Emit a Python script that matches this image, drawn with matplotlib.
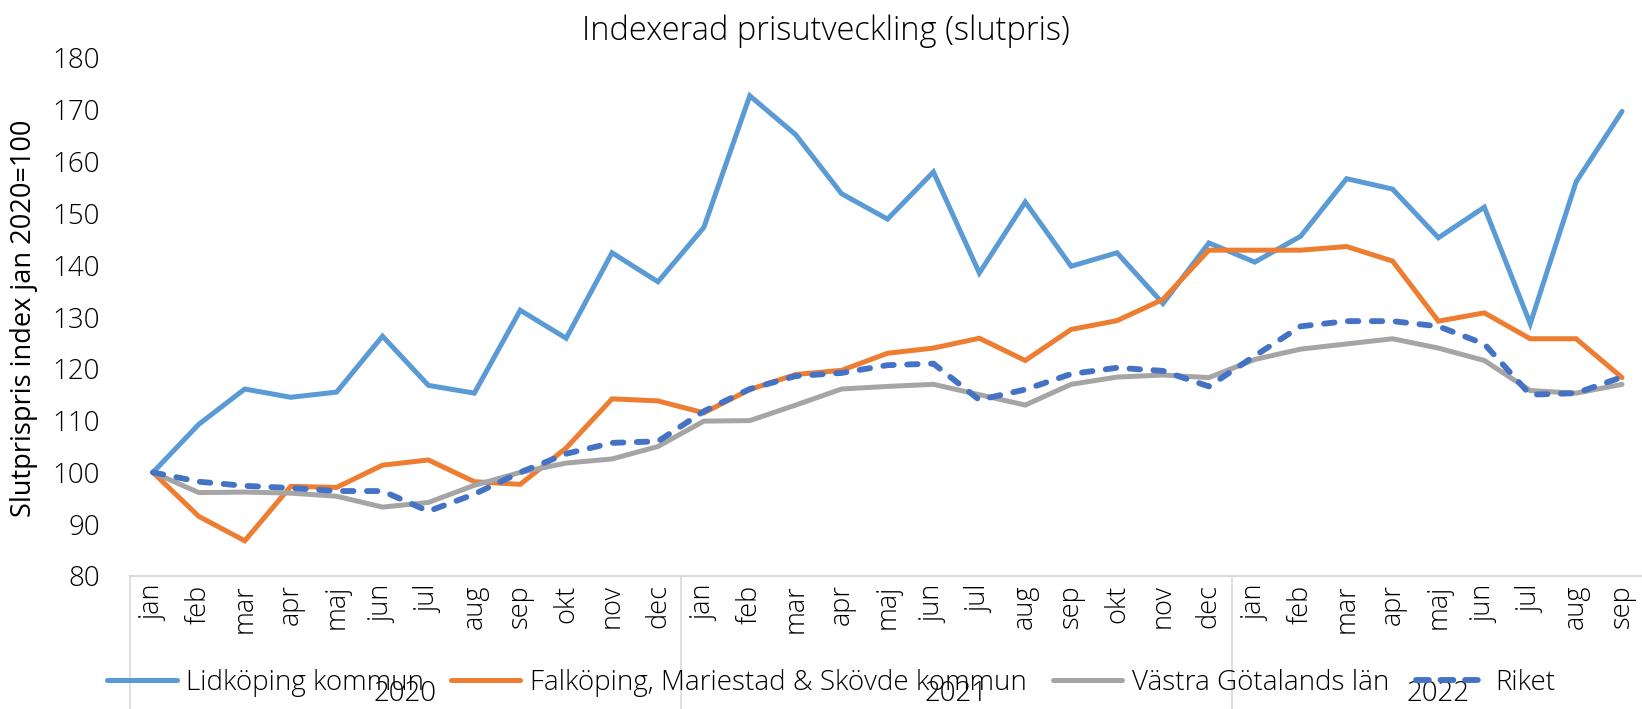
import matplotlib
matplotlib.use("Agg")
import matplotlib.pyplot as plt
from matplotlib.lines import Line2D

plt.rcParams['font.family'] = ['Open Sans', 'DejaVu Sans']
plt.rcParams['font.weight'] = 'light'

months = ["jan", "feb", "mar", "apr", "maj", "jun", "jul", "aug", "sep", "okt", "nov", "dec"]
years = ["2020", "2021", "2022"]
month_labels = months + months + months[:9]

lidkoping = [100, 109.3, 116.1, 114.5, 115.5, 126.3, 116.8, 115.3, 131.3, 125.9, 142.4, 136.8,
             147.3, 172.7, 165.2, 153.8, 148.9, 158.0, 138.5, 152.2, 139.8, 142.4, 132.6, 144.3,
             140.6, 145.6, 156.7, 154.7, 145.3, 151.2, 128.7, 156.1, 169.7]
falkoping = [100, 91.5, 86.8, 97.3, 97.1, 101.4, 102.4, 98.2, 97.7, 104.7, 114.2, 113.8,
             111.5, 116.0, 118.9, 119.7, 123.0, 124.0, 125.9, 121.6, 127.6, 129.3, 133.4, 142.9,
             142.9, 142.9, 143.6, 140.8, 129.2, 130.8, 125.8, 125.8, 118.3]
vastra = [100, 96.1, 96.2, 96.0, 95.4, 93.3, 94.2, 97.5, 100.0, 101.8, 102.6, 105.0,
          109.9, 110.0, 113.0, 116.1, 116.6, 117.0, 115.0, 113.0, 117.0, 118.4, 118.8, 118.3,
          121.8, 123.8, 124.8, 125.8, 124.0, 121.6, 115.8, 115.3, 117.0]
riket = [100, 98.2, 97.4, 97.0, 96.4, 96.4, 92.5, 95.8, 100.0, 103.6, 105.7, 106.0,
         111.8, 116.1, 118.6, 119.2, 120.7, 121.0, 114.0, 116.0, 119.0, 120.2, 119.6, 116.6,
         122.5, 128.2, 129.2, 129.2, 128.2, 124.8, 115.0, 115.3, 118.4]

series_names = ["Lidköping kommun", "Falköping, Mariestad & Skövde kommun",
                "Västra Götalands län", "Riket"]
colors = ["#5B9BD5", "#ED7D31", "#A5A5A5", "#4472C4"]

W, H = 1642, 709
fig = plt.figure(figsize=(W / 100, H / 100), dpi=100)
ax_left, ax_right = 130 / W, 1645 / W
ax_bottom, ax_top = 1 - 576 / H, 1 - 58 / H
ax = fig.add_axes([ax_left, ax_bottom, ax_right - ax_left, ax_top - ax_bottom])

x = list(range(len(month_labels)))
lw = 3.6
lw_dash = 4.2
dash_pat = (1.8, 2.3)
ax.plot(x, lidkoping, color=colors[0], lw=lw, solid_joinstyle='miter', solid_capstyle='round')
ax.plot(x, falkoping, color=colors[1], lw=lw, solid_joinstyle='miter', solid_capstyle='round')
ax.plot(x, vastra, color=colors[2], lw=lw, solid_joinstyle='miter', solid_capstyle='round')
ax.plot(x, riket, color=colors[3], lw=lw_dash, dashes=dash_pat, dash_capstyle='round',
        dash_joinstyle='round')

ax.set_xlim(-0.5, 32.5)
ax.set_ylim(80, 180)
ax.set_yticks(range(80, 181, 10))
ax.tick_params(axis='y', length=0, labelsize=20, pad=21.5, labelcolor='#000000')
ax.set_xticks(x)
ax.set_xticklabels(month_labels, rotation=90, va='top', ha='center')
ax.tick_params(axis='x', length=0, labelsize=19.5, pad=6)

for s in ['left', 'right', 'top']:
    ax.spines[s].set_visible(False)
ax.spines['bottom'].set_color('#D9D9D9')
ax.spines['bottom'].set_linewidth(1.5)

ax.set_ylabel("Slutprispris index jan 2020=100", fontsize=19.5)
ax.yaxis.set_label_coords(-(130 - 38) / (1645 - 130), (576 - 318) / (576 - 58))

# year group separators and labels
sep_positions = [-0.5, 11.5, 23.5, 32.5]
for sp in sep_positions:
    ax.plot([sp, sp], [0, -0.28], transform=ax.get_xaxis_transform(), clip_on=False,
            color='#D9D9D9', lw=1.2)
year_centers = [5.5, 17.5, 28.0]
for yc, yl in zip(year_centers, years):
    ax.text(yc, -(694 - 576) / (576 - 58), yl, transform=ax.get_xaxis_transform(),
            ha='center', va='center', fontsize=20)

fig.text(826 / W, 1 - 31 / H, "Indexerad prisutveckling (slutpris)", ha='center', va='center',
         fontsize=23.5)

handles = [Line2D([], [], color=colors[0], lw=lw, solid_capstyle='round'),
           Line2D([], [], color=colors[1], lw=lw, solid_capstyle='round'),
           Line2D([], [], color=colors[2], lw=lw, solid_capstyle='round'),
           Line2D([], [], color=colors[3], lw=lw_dash, dashes=(2.2, 2.0), dash_capstyle='round')]
fig.legend(handles, series_names, loc='center', bbox_to_anchor=(831 / W, 1 - 683 / H),
           ncol=4, frameon=False, fontsize=20, handlelength=2.5, handletextpad=0.35,
           columnspacing=0.95)

fig.savefig("out.png", dpi=100)
